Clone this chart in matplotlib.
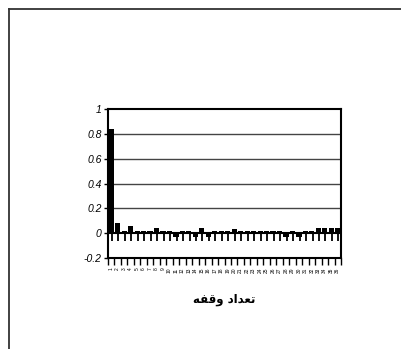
import matplotlib
matplotlib.use("Agg")
import matplotlib.pyplot as plt
from matplotlib.lines import Line2D
import numpy as np

lags = [str(i) for i in range(1, 37)]
values = [0.84, 0.08, 0.02, 0.06, 0.02, 0.02, 0.02, 0.04, 0.02, 0.02,
          -0.03, 0.02, 0.02, -0.03, 0.04, -0.03, 0.02, 0.02, 0.02, 0.03,
          0.02, 0.02, 0.02, 0.02, 0.02, 0.02, 0.02, -0.03, 0.02, -0.03,
          0.02, 0.02, 0.04, 0.04, 0.04, 0.04]
lower = [-0.065] * 36
yticks = [-0.2, 0, 0.2, 0.4, 0.6, 0.8, 1]
ytick_labels = ["-0.2", "0", "0.2", "0.4", "0.6", "0.8", "1"]
xlabel = "\uFEEA\uFED4\uFED7\uFEED \uFEA9\uFE8D\uFEAA\uFECC\uFE97"  # تعداد وقفه

fig = plt.figure(figsize=(4.01, 3.49), dpi=100)
fig.patch.set_facecolor("white")

# outer frame (left and top edges visible)
fig.add_artist(Line2D([9/401, 9/401], [0, 1 - 9/349], transform=fig.transFigure,
                      color="#333333", lw=1.3))
fig.add_artist(Line2D([9/401, 1], [1 - 9/349, 1 - 9/349], transform=fig.transFigure,
                      color="#333333", lw=1.3))

ax = fig.add_axes([108/401, (349-258)/349, 233/401, 149/349])
x = np.arange(len(values))
ax.bar(x, values, width=0.8, color="black", zorder=3)
ax.vlines(x + 0.1, lower, 0, color="black", lw=1.3, zorder=3)
ax.axhline(0.005, color="black", lw=1.5, zorder=4)
for g in [0.2, 0.4, 0.6, 0.8]:
    ax.axhline(g, color="#444444", lw=1.0, zorder=1)

ax.set_xlim(-0.5, len(values) - 0.5)
ax.set_ylim(-0.2, 1)
ax.set_yticks(yticks)
ax.set_yticklabels(ytick_labels, fontsize=7.5, style="italic", family="Liberation Sans")
ax.tick_params(axis="y", length=3, width=1, pad=1.5)

ax.set_xticks(np.arange(len(values) + 1) - 0.5)
ax.set_xticklabels([])
ax.tick_params(axis="x", which="major", length=5, width=1)
ax.set_xticks(x, minor=True)
ax.set_xticklabels(lags, minor=True, rotation=90, fontsize=3.5, family="Liberation Sans")
ax.tick_params(axis="x", which="minor", length=0, pad=7)

for s in ax.spines.values():
    s.set_linewidth(1.5)
    s.set_color("black")

ax.set_xlabel(xlabel, family=["DejaVu Sans"], fontweight="bold", fontsize=8.5, labelpad=14)

fig.savefig("out.png", dpi=100, facecolor="white")
